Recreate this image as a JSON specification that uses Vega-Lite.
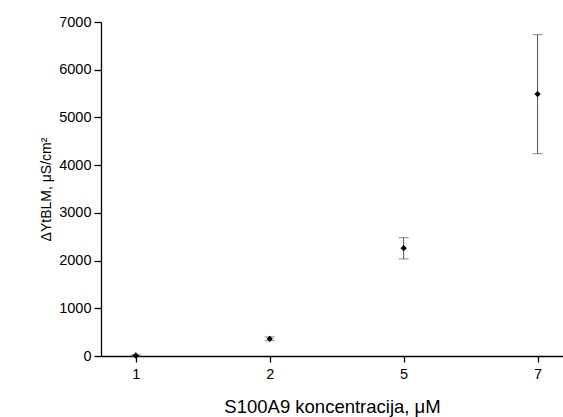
{
  "$schema": "https://vega.github.io/schema/vega-lite/v6.json",
  "autosize": {"type": "none"},
  "padding": {"left": 101, "top": 22, "right": 0, "bottom": 61},
  "width": 462,
  "height": 334,
  "background": "white",
  "config": {
    "font": "Liberation Sans",
    "view": {"stroke": null},
    "axis": {
      "domainColor": "#000",
      "tickColor": "#000",
      "labelColor": "#000",
      "titleColor": "#000",
      "labelFont": "Liberation Sans",
      "titleFont": "Liberation Sans",
      "labelFontSize": 14.5,
      "titleFontWeight": "normal",
      "grid": false,
      "domainWidth": 1.3,
      "tickWidth": 1.3
    }
  },
  "data": {
    "values": [
      {"i": 1, "conc": "1", "y": 10, "lo": 0, "hi": 25},
      {"i": 2, "conc": "2", "y": 360, "lo": 320, "hi": 400},
      {"i": 3, "conc": "5", "y": 2260, "lo": 2035, "hi": 2480},
      {"i": 4, "conc": "7", "y": 5490, "lo": 4240, "hi": 6735}
    ]
  },
  "layer": [
    {
      "mark": {"type": "errorbar", "ticks": {"size": 10, "color": "#555"}, "rule": {"color": "#555"}},
      "encoding": {
        "x": {
          "field": "i", "type": "quantitative",
          "scale": {"domain": [0.74, 4.19], "nice": false, "zero": false},
          "axis": {
            "values": [1, 2, 3, 4],
            "labelExpr": "['', '1', '2', '5', '7'][datum.value]",
            "title": "S100A9 koncentracija, μM",
            "titleFontSize": 18.5,
            "tickSize": 6,
            "labelPadding": 5,
            "titlePadding": 17
          }
        },
        "y": {
          "field": "lo", "type": "quantitative",
          "scale": {"domain": [0, 7000], "nice": false},
          "axis": {
            "values": [0, 500, 1000, 1500, 2000, 2500, 3000, 3500, 4000, 4500, 5000, 5500, 6000, 6500, 7000],
            "format": "d",
            "labelExpr": "datum.value % 1000 === 0 ? datum.label : ''",
            "tickSize": {"condition": {"test": "datum.value % 1000 === 0", "value": 7}, "value": 4},
            "labelPadding": 3,
            "title": "ΔYtBLM, μS/cm²",
            "titleFontSize": 14,
            "titlePadding": 5
          }
        },
        "y2": {"field": "hi"}
      }
    },
    {
      "mark": {"type": "point", "shape": "diamond", "filled": true, "color": "#000", "size": 40, "opacity": 1},
      "encoding": {
        "x": {"field": "i", "type": "quantitative"},
        "y": {"field": "y", "type": "quantitative"}
      }
    }
  ]
}
